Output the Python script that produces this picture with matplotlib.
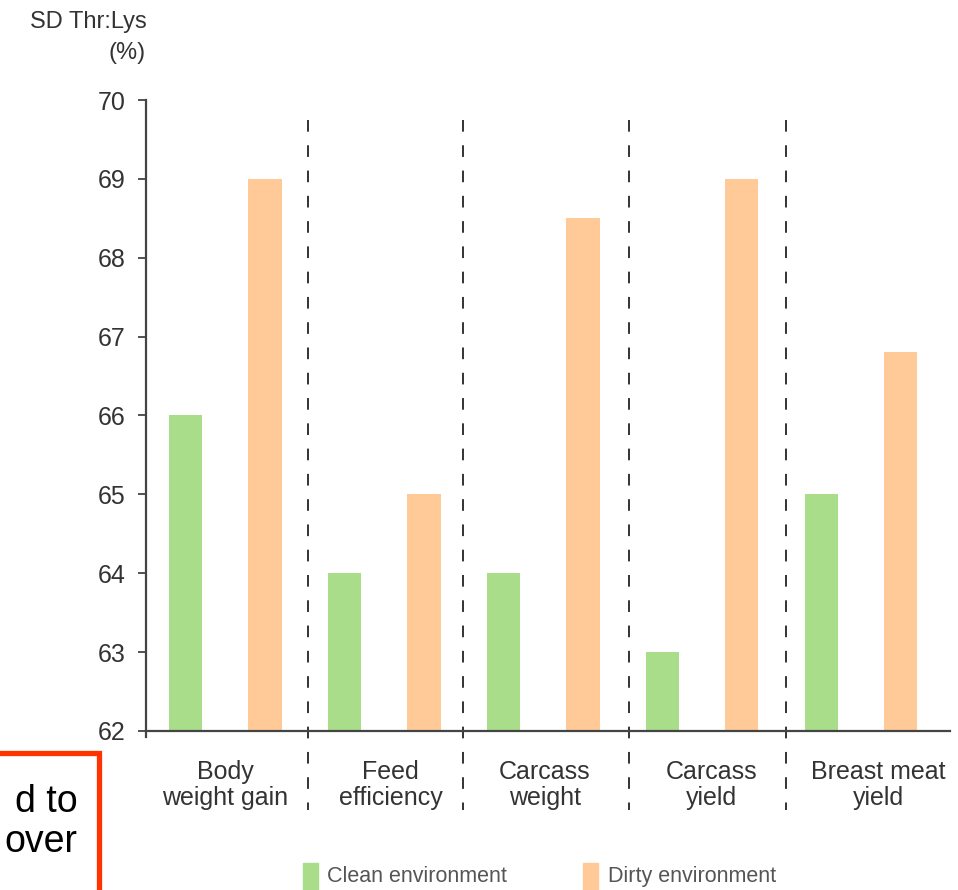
import matplotlib.pyplot as plt
import matplotlib.patches as mpatches
import numpy as np

plt.rcParams["font.family"] = ["Liberation Sans", "DejaVu Sans"]

categories = ["Body\nweight gain", "Feed\nefficiency", "Carcass\nweight", "Carcass\nyield", "Breast meat\nyield"]
clean = [66, 64, 64, 63, 65]
dirty = [69, 65, 68.5, 69, 66.8]
yticks = [62, 63, 64, 65, 66, 67, 68, 69, 70]

green = "#a9dd8a"
orange = "#ffca97"
txt = "#333333"

fig = plt.figure(figsize=(9.58, 8.90), dpi=100)
ax = fig.add_axes([0.1524, 0.1787, 0.8392, 0.7089])

x = np.arange(len(categories))
w = 0.21
ax.bar(x, np.array(clean) - 62, w, bottom=62, color=green, label="Clean environment")
ax.bar(x + 0.5, np.array(dirty) - 62, w, bottom=62, color=orange, label="Dirty environment")

ax.set_xlim(-0.25, 4.81)
ax.set_ylim(62, 70)
ax.set_yticks(yticks)
ax.set_yticklabels([str(v) for v in yticks], fontsize=18, color=txt)
ax.tick_params(axis="y", direction="out", length=6, width=1.3, color="#444444", pad=9)
ax.set_xticks([])

for s in ["top", "right"]:
    ax.spines[s].set_visible(False)
for s in ["left", "bottom"]:
    ax.spines[s].set_color("#444444")
    ax.spines[s].set_linewidth(1.6)

# dashed separators between groups, running down through the labels
for xs in [0.77, 1.745, 2.79, 3.78]:
    ax.plot([xs, xs], [69.75, 61.0], ls=(0, (6, 7)), color="#333333", lw=1.4,
            clip_on=False)
# small tick under the origin
ax.plot([-0.25, -0.25], [62, 61.92], color="#444444", lw=1.6, clip_on=False)

label_x = [0.25, 0.29, 0.26, 0.31, 0.36]
for lx, i, lab in zip(label_x, x, categories):
    ax.text(i + lx, 61.32, lab, ha="center", va="center", fontsize=18,
            color=txt, linespacing=1.1)

fig.text(0.031, 0.975, "SD Thr:Lys", ha="left", va="center", fontsize=17, color=txt)
fig.text(0.152, 0.941, "(%)", ha="right", va="center", fontsize=17, color=txt)

# legend along the bottom edge
fig.patches.append(mpatches.Rectangle((0.316, -0.005), 0.0155, 0.035, color=green,
                                      transform=fig.transFigure))
fig.text(0.341, 0.015, "Clean environment", fontsize=15.5, color="#555555", va="center")
fig.patches.append(mpatches.Rectangle((0.6086, -0.005), 0.0155, 0.035, color=orange,
                                      transform=fig.transFigure))
fig.text(0.6347, 0.015, "Dirty environment", fontsize=15.5, color="#555555", va="center")

# red callout box cut off at the lower left
fig.patches.append(mpatches.Rectangle((-0.05, -0.05), 0.153, 0.204, fill=False,
                                      edgecolor="#ff3300", lw=3.8,
                                      transform=fig.transFigure))
fig.text(0.081, 0.0876, "d to", ha="right", va="baseline", fontsize=27, color="black")
fig.text(0.081, 0.0427, "over", ha="right", va="baseline", fontsize=27, color="black")

fig.savefig("out.png", dpi=100)
